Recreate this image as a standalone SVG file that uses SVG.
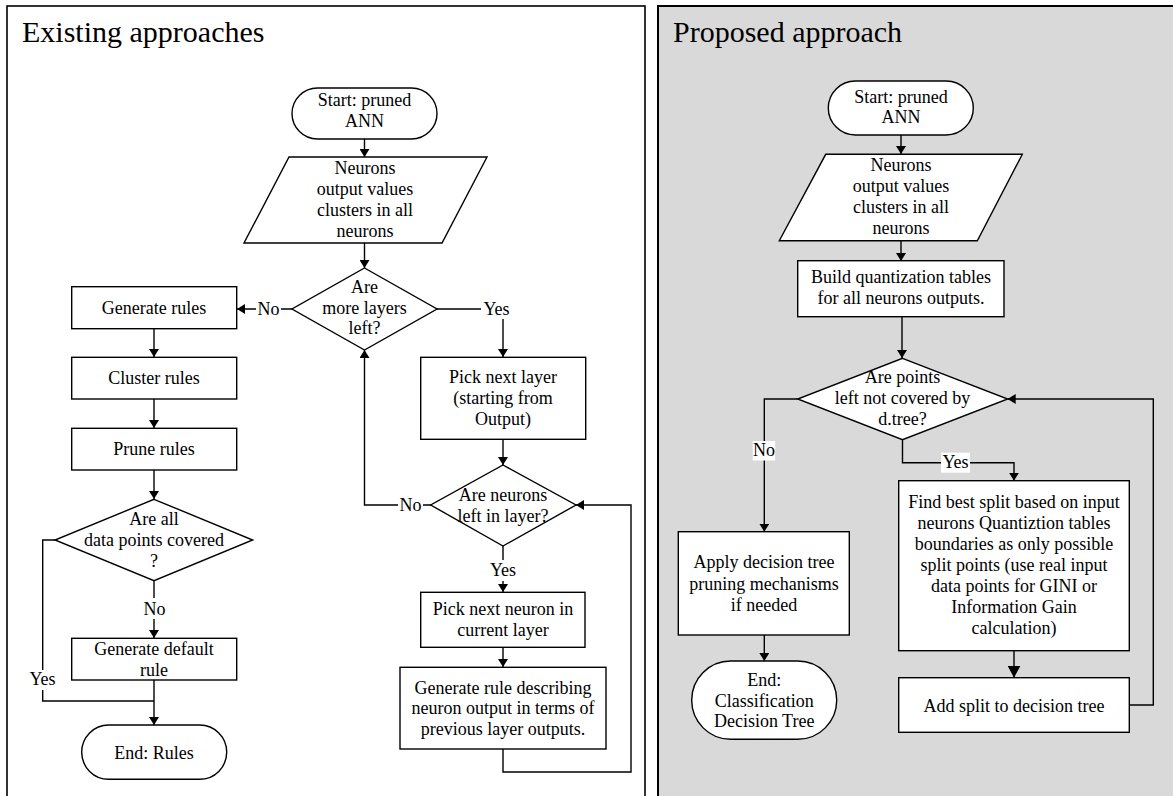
<svg xmlns="http://www.w3.org/2000/svg" width="1173" height="796" viewBox="0 0 1173 796">
<style>
.t{font-family:"Liberation Serif","Times New Roman",serif;font-size:18px;fill:#000;text-anchor:middle}
.title{font-family:"Liberation Serif","Times New Roman",serif;font-size:30px;fill:#000}
.n{fill:#fff;stroke:#000;stroke-width:1.4}
.c{fill:none;stroke:#000;stroke-width:1.4}
.lb{fill:#fff}
</style>
<defs>
<marker id="a" viewBox="0 0 8 10" refX="8" refY="5" markerWidth="8" markerHeight="10" markerUnits="userSpaceOnUse" orient="auto"><path d="M0,0 L8,5 L0,10 z" fill="#000"/></marker>
<marker id="ab" viewBox="0 0 12 13" refX="12" refY="6.5" markerWidth="12" markerHeight="13" markerUnits="userSpaceOnUse" orient="auto"><path d="M0,0 L12,6.5 L0,13 z" fill="#000"/></marker>
</defs>
<rect width="1173" height="796" fill="#fff"/>
<g id="panel-left">
<rect x="7" y="6" width="638" height="800" fill="#fff" stroke="#000" stroke-width="1.6"/>
<text class="title" x="22" y="42">Existing approaches</text>
</g>
<g id="panel-right">
<rect x="658" y="6" width="530" height="800" fill="#d9d9d9" stroke="#000" stroke-width="2"/>
<text class="title" x="673" y="42">Proposed approach</text>
</g>
<g id="connectors">
<path class="c" d="M364.5,139 V157" marker-end="url(#a)"/>
<path class="c" d="M364.5,243 V268" marker-end="url(#a)"/>
<path class="c" d="M292,309 H237" marker-end="url(#a)"/>
<path class="c" d="M437,309 H503 V357" marker-end="url(#a)"/>
<path class="c" d="M154,329 V357" marker-end="url(#a)"/>
<path class="c" d="M154,399 V428" marker-end="url(#a)"/>
<path class="c" d="M154,470 V499" marker-end="url(#a)"/>
<path class="c" d="M154,580 V638" marker-end="url(#a)"/>
<path class="c" d="M55,540 H42.7 V701 H154"/>
<path class="c" d="M154,680 V725" marker-end="url(#a)"/>
<path class="c" d="M503,439 V465" marker-end="url(#a)"/>
<path class="c" d="M431,505 H364.5 V350" marker-end="url(#a)"/>
<path class="c" d="M503,546 V592" marker-end="url(#a)"/>
<path class="c" d="M503,647 V667" marker-end="url(#a)"/>
<path class="c" d="M503,749 V772 H631 V505 H576" marker-end="url(#a)"/>
<path class="c" d="M901,135 V154" marker-end="url(#a)"/>
<path class="c" d="M901,241 V261" marker-end="url(#a)"/>
<path class="c" d="M902,317 V358" marker-end="url(#a)"/>
<path class="c" d="M797.7,399 H764.3 V531.7" marker-end="url(#a)"/>
<path class="c" d="M902.5,439 V462.7 H1014 V480.7" marker-end="url(#a)"/>
<path class="c" d="M764.3,635 V661" marker-end="url(#a)"/>
<path class="c" d="M1014,650.7 V677.7" marker-end="url(#ab)"/>
<path class="c" d="M1129.3,705 H1153.3 V399 H1007.7" marker-end="url(#a)"/>
<g id="labels">
<rect class="lb" x="256" y="299" width="25" height="20"/><text class="t" x="268.5" y="315">No</text>
<rect class="lb" x="481" y="299" width="31" height="20"/><text class="t" x="496.5" y="315">Yes</text>
<rect class="lb" x="142" y="598" width="25" height="21"/><text class="t" x="154.5" y="615">No</text>
<rect class="lb" x="27" y="670" width="31" height="20"/><text class="t" x="42.5" y="685">Yes</text>
<rect class="lb" x="398" y="495" width="25" height="20"/><text class="t" x="410.5" y="511">No</text>
<rect class="lb" x="487" y="560" width="32" height="21"/><text class="t" x="503" y="576">Yes</text>
<rect class="lb" x="752.7" y="441" width="22.5" height="19.5"/><text class="t" x="764" y="456">No</text>
<rect class="lb" x="941" y="452.7" width="29" height="20"/><text class="t" x="955.5" y="468">Yes</text>
</g>
</g>
<g id="start-left">
<rect class="n" x="292" y="88" width="145" height="51" rx="25.5"/>
<text class="t" x="364.5" y="106">Start: pruned</text>
<text class="t" x="364.5" y="127">ANN</text>
</g>
<g id="clusters-left">
<path class="n" d="M289,157 H487 L442,243 H244 Z"/>
<text class="t" x="365" y="174">Neurons</text>
<text class="t" x="365" y="195">output values</text>
<text class="t" x="365" y="216">clusters in all</text>
<text class="t" x="365" y="237">neurons</text>
</g>
<g id="more-layers">
<path class="n" d="M364.5,268 L437,309 L364.5,350 L292,309 Z"/>
<text class="t" x="364.5" y="293">Are</text>
<text class="t" x="364.5" y="314">more layers</text>
<text class="t" x="364.5" y="334">left?</text>
</g>
<g id="generate-rules">
<rect class="n" x="71.7" y="286.7" width="165" height="42"/>
<text class="t" x="154" y="314">Generate rules</text>
</g>
<g id="cluster-rules">
<rect class="n" x="71.7" y="357.3" width="165" height="41.7"/>
<text class="t" x="154" y="383.5">Cluster rules</text>
</g>
<g id="prune-rules">
<rect class="n" x="71.7" y="428.3" width="165" height="41.7"/>
<text class="t" x="154" y="454.5">Prune rules</text>
</g>
<g id="all-covered">
<path class="n" d="M154,499.3 L252.7,540 L154,580.7 L55,540 Z"/>
<text class="t" x="154" y="525">Are all</text>
<text class="t" x="154" y="546">data points covered</text>
<text class="t" x="154" y="567">?</text>
</g>
<g id="default-rule">
<rect class="n" x="71.7" y="638.3" width="165" height="41.7"/>
<text class="t" x="154" y="655">Generate default</text>
<text class="t" x="154" y="675.5">rule</text>
</g>
<g id="end-rules">
<rect class="n" x="81.7" y="725" width="145" height="54.3" rx="27"/>
<text class="t" x="154" y="758.5">End: Rules</text>
</g>
<g id="pick-layer">
<rect class="n" x="420.7" y="357.3" width="165" height="82"/>
<text class="t" x="503" y="383">Pick next layer</text>
<text class="t" x="503" y="403.5">(starting from</text>
<text class="t" x="503" y="424.5">Output)</text>
</g>
<g id="neurons-left">
<path class="n" d="M503,465 L576,505 L503,546 L430.7,505 Z"/>
<text class="t" x="503" y="501">Are neurons</text>
<text class="t" x="503" y="522">left in layer?</text>
</g>
<g id="pick-neuron">
<rect class="n" x="420.7" y="592.3" width="164.3" height="55"/>
<text class="t" x="503" y="615">Pick next neuron in</text>
<text class="t" x="503" y="636">current layer</text>
</g>
<g id="generate-rule">
<rect class="n" x="400" y="667.3" width="206" height="81.7"/>
<text class="t" x="503" y="693.5">Generate rule describing</text>
<text class="t" x="503" y="714">neuron output in terms of</text>
<text class="t" x="503" y="735">previous layer outputs.</text>
</g>
<g id="start-right">
<rect class="n" x="828.3" y="81" width="145" height="54" rx="27"/>
<text class="t" x="901" y="102.7">Start: pruned</text>
<text class="t" x="901" y="123.3">ANN</text>
</g>
<g id="clusters-right">
<path class="n" d="M825.7,154.3 H1022.3 L977.3,240.7 H779.3 Z"/>
<text class="t" x="901" y="170.7">Neurons</text>
<text class="t" x="901" y="192.3">output values</text>
<text class="t" x="901" y="213.3">clusters in all</text>
<text class="t" x="901" y="234">neurons</text>
</g>
<g id="quantization">
<rect class="n" x="797.7" y="260.7" width="206.3" height="56"/>
<text class="t" x="901" y="283.3">Build quantization tables</text>
<text class="t" x="901" y="304">for all neurons outputs.</text>
</g>
<g id="points-left">
<path class="n" d="M902.5,358.3 L1007.7,399 L902.5,439.7 L797.7,399 Z"/>
<text class="t" x="902.5" y="383.3">Are points</text>
<text class="t" x="902.5" y="404">left not covered by</text>
<text class="t" x="902.5" y="425">d.tree?</text>
</g>
<g id="apply-pruning">
<rect class="n" x="678.3" y="531.7" width="171" height="103.3"/>
<text class="t" x="764" y="568.3">Apply decision tree</text>
<text class="t" x="764" y="590">pruning mechanisms</text>
<text class="t" x="764" y="610.5">if needed</text>
</g>
<g id="end-tree">
<rect class="n" x="691.7" y="661" width="145" height="78.3" rx="39"/>
<text class="t" x="764.2" y="686">End:</text>
<text class="t" x="764.2" y="706.7">Classification</text>
<text class="t" x="764.2" y="727.3">Decision Tree</text>
</g>
<g id="find-split">
<rect class="n" x="898.7" y="480.7" width="230.6" height="170"/>
<text class="t" x="1014" y="508.3">Find best split based on input</text>
<text class="t" x="1014" y="529">neurons Quantiztion tables</text>
<text class="t" x="1014" y="550">boundaries as only possible</text>
<text class="t" x="1014" y="570.7">split points (use real input</text>
<text class="t" x="1014" y="591.7">data points for GINI or</text>
<text class="t" x="1014" y="612.7">Information Gain</text>
<text class="t" x="1014" y="634">calculation)</text>
</g>
<g id="add-split">
<rect class="n" x="898.7" y="677.7" width="230.6" height="54.6"/>
<text class="t" x="1014" y="711.7">Add split to decision tree</text>
</g>
</svg>
